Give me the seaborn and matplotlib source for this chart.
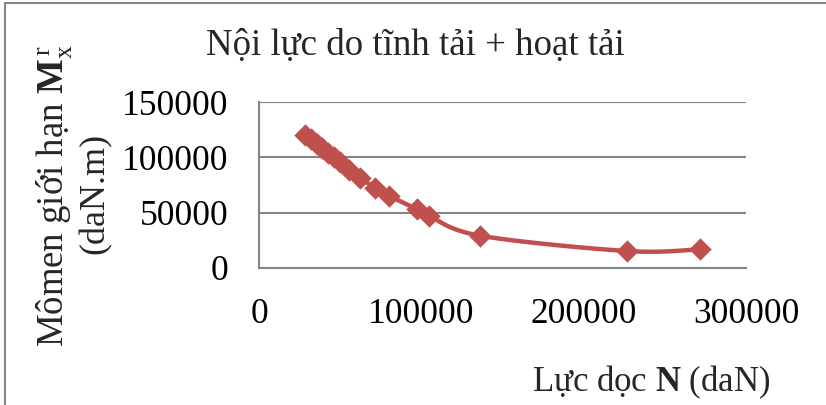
import numpy as np
import pandas as pd
import matplotlib
matplotlib.use("Agg")
import matplotlib.pyplot as plt
from matplotlib.patches import Rectangle
import seaborn as sns

# Axial force N (daN) and limit moment Mx (daN.m)
luc_doc_N = [28400, 32000, 35500, 39000, 42500, 46000, 50000, 55500, 62300,
             71500, 80300, 97200, 104800, 136300, 226700, 271900]
momen_Mx = [120400, 116300, 112200, 108200, 104100, 100100, 95500, 88800, 81100,
            72600, 65000, 53300, 46900, 29000, 15100, 16700]

x_ticks = [0, 100000, 200000, 300000]
y_ticks = [0, 50000, 100000, 150000]

title_text = "Nội lực do tĩnh tải + hoạt tải"
xlabel_text = r"Lực dọc $\mathbf{N}$ (daN)"
ylabel_line1 = "Mômen giới hạn $\\mathbf{M}_{\\mathrm{x}}^{\\,\\mathrm{r}}$"
ylabel_line2 = "(daN.m)"

RED = "#C0504D"
GRID = "#868686"

sns.set_theme(style="white")
plt.rcParams["font.family"] = ["Liberation Serif", "DejaVu Serif"]
plt.rcParams["mathtext.fontset"] = "custom"
plt.rcParams["mathtext.rm"] = "Liberation Serif"
plt.rcParams["mathtext.it"] = "Liberation Serif:italic"
plt.rcParams["mathtext.bf"] = "Liberation Serif:bold"

df = pd.DataFrame({"N": luc_doc_N, "M": momen_Mx})


def catmull_rom(xs, ys, n=30):
    """Smoothed curve through the points (uniform Catmull-Rom)."""
    p = np.column_stack([xs, ys]).astype(float)
    p = np.vstack([p[0], p, p[-1]])
    out = []
    for i in range(1, len(p) - 2):
        p0, p1, p2, p3 = p[i - 1], p[i], p[i + 1], p[i + 2]
        t = np.linspace(0, 1, n, endpoint=False)[:, None]
        seg = 0.5 * ((2 * p1) + (-p0 + p2) * t +
                     (2 * p0 - 5 * p1 + 4 * p2 - p3) * t ** 2 +
                     (-p0 + 3 * p1 - 3 * p2 + p3) * t ** 3)
        out.append(seg)
    out.append(p[-2][None, :])
    return np.vstack(out)


curve = catmull_rom(df["N"].values, df["M"].values)
curve_df = pd.DataFrame({"N": curve[:, 0], "M": curve[:, 1]})

W, H = 826, 405
fig = plt.figure(figsize=(W / 100, H / 100), dpi=100)
fig.patch.set_facecolor("white")
ax = fig.add_axes([259 / W, 1 - 267.7 / H, (746 - 259) / W, (267.7 - 102.3) / H])

sns.lineplot(data=curve_df, x="N", y="M", sort=False, estimator=None,
             color=RED, linewidth=3.2, ax=ax, zorder=3)
sns.scatterplot(data=df, x="N", y="M", marker="D", s=130, color=RED,
                linewidth=0, ax=ax, zorder=4)

ax.set_xlim(0, 300000)
ax.set_ylim(0, 150000)
ax.set_xticks(x_ticks)
ax.set_yticks(y_ticks)
ax.set_xticklabels([str(v) for v in x_ticks])
ax.set_yticklabels([str(v) for v in y_ticks])
ax.tick_params(axis="both", labelsize=25.5, colors=GRID, labelcolor="black",
               length=7.3, width=1.5, direction="out", pad=14.5)
ax.grid(axis="y", color=GRID, linewidth=1.5)
ax.grid(axis="x", visible=False)
for side in ["top", "right"]:
    ax.spines[side].set_visible(False)
for side in ["left", "bottom"]:
    ax.spines[side].set_color(GRID)
    ax.spines[side].set_linewidth(1.5)
ax.set_xlabel("")
ax.set_ylabel("")

fig.text(415 / W, 1 - 55 / H, title_text, ha="center", va="baseline", fontsize=26.6)
fig.text(651 / W, 1 - 391 / H, xlabel_text, ha="center", va="baseline", fontsize=25)
fig.text(63 / W, 1 - 196 / H, ylabel_line1, ha="center", va="baseline",
         rotation=90, rotation_mode="anchor", fontsize=26.5)
fig.text(104 / W, 1 - 193 / H, ylabel_line2, ha="center", va="baseline",
         rotation=90, rotation_mode="anchor", fontsize=26)

# chart frame
fig.patches.append(Rectangle((5 / W, -0.1), 1.2, 1 - 3 / H + 0.1,
                             transform=fig.transFigure, fill=False,
                             edgecolor=GRID, linewidth=1.5))

fig.savefig("out.png", dpi=100, facecolor="white")
